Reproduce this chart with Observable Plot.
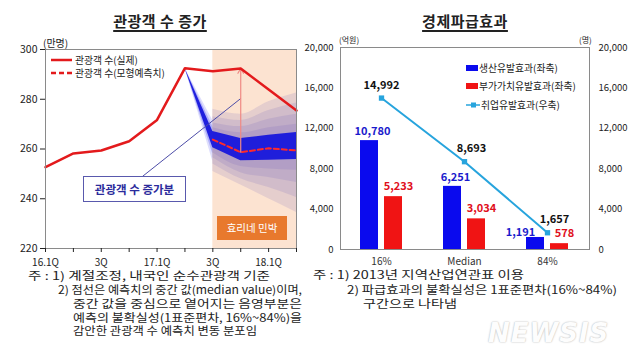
<!DOCTYPE html>
<html><head><meta charset="utf-8">
<script src="https://cdn.jsdelivr.net/npm/d3@7"></script>
<script src="https://cdn.jsdelivr.net/npm/@observablehq/plot@0.6"></script>
<style>
body{margin:0;background:#fff;}
#root{position:relative;width:639px;height:364px;overflow:hidden;background:#fff;font-family:"Noto Sans CJK KR","Noto Sans",sans-serif;color:#222;}
.abs{position:absolute;white-space:nowrap;}
.title{font-weight:bold;font-size:15px;line-height:18px;text-align:center;width:200px;letter-spacing:0.5px;}
.title span{text-decoration:underline;text-underline-offset:3px;text-decoration-thickness:1.5px;}
.lg{font-size:9.8px;line-height:12px;color:#222;display:flex;align-items:center;}
</style></head>
<body>
<div id="root">
  <div class="abs title" style="left:60px;top:12px;"><span>관광객 수 증가</span></div>
  <div class="abs title" style="left:365px;top:12px;"><span>경제파급효과</span></div>
  <div class="abs" style="left:43px;top:35px;font-size:10px;">(만명)</div>
  <div class="abs" style="left:339px;top:34px;font-size:8px;">(억원)</div>
  <div class="abs" style="left:579px;top:34px;font-size:8px;">(명)</div>
  <div id="left" class="abs" style="left:0;top:30px;"></div>
  <div id="right" class="abs" style="left:300px;top:30px;"></div>

  <!-- left legend -->
  <div class="abs lg" style="left:51px;top:54px;"><svg width="24" height="8"><line x1="0" y1="4" x2="21" y2="4" stroke="#e31a1c" stroke-width="2.5"/></svg>관광객 수(실제)</div>
  <div class="abs lg" style="left:51px;top:67px;"><svg width="24" height="8"><line x1="0" y1="4" x2="21" y2="4" stroke="#e31a1c" stroke-width="2.5" stroke-dasharray="5,3"/></svg>관광객 수(모형예측치)</div>

  <div class="abs" style="left:83px;top:176px;width:101px;height:24px;border:1px solid #5959ad;background:#fff;color:#2b2b9c;font-weight:bold;font-size:11.5px;line-height:24px;text-align:center;">관광객 수 증가분</div>
  <div class="abs" style="left:217px;top:216px;width:70px;height:24px;background:#e8792d;color:#fff;font-size:10.5px;line-height:24px;text-align:center;">효리네 민박</div>

  <!-- right legend -->
  <div class="abs lg" style="left:466px;top:62px;"><svg width="13" height="8"><rect x="0" y="1" width="12" height="6" fill="#0a0aee"/></svg>생산유발효과(좌축)</div>
  <div class="abs lg" style="left:466px;top:80px;"><svg width="13" height="8"><rect x="0" y="1" width="12" height="6" fill="#f01414"/></svg>부가가치유발효과(좌축)</div>
  <div class="abs lg" style="left:466px;top:99px;"><svg width="15" height="8"><line x1="0" y1="4" x2="14" y2="4" stroke="#27a4dd" stroke-width="1.5"/><rect x="5" y="1.5" width="5" height="5" fill="#27a4dd"/></svg>취업유발효과(우축)</div>

  <svg id="notes" class="abs" style="left:0;top:0;pointer-events:none;" width="639" height="364"></svg>
  <div class="abs" style="left:488px;top:318px;font-family:'DejaVu Sans',sans-serif;font-weight:bold;font-style:italic;font-size:26px;letter-spacing:1px;color:#fdfdfd;text-shadow:0 0 2px #bdbdbd,0 0 1px #cfcfcf;">NEWSIS</div>
</div>
<script>
// ---------- left chart data ----------
const quarters = ["16.1Q","16.2Q","16.3Q","16.4Q","17.1Q","17.2Q","17.3Q","17.4Q","18.1Q","18.2Q"];
const quarterTickLabels = ["16.1Q","","3Q","","17.1Q","","3Q","","18.1Q",""];
const actualVisitors = [252.7, 258.2, 259.4, 263.1, 271.7, 292.5, 291.3, 292.4, 283.9, 275.5];
const leftYTicks = [220, 240, 260, 280, 300];
const shadedPeriod = ["17.3Q", "18.2Q"];

const forecastQuarters = ["17.3Q","17.4Q","18.1Q","18.2Q"];
const forecastMedian = [263.8, 258.7, 260.3, 259.4];

const innerQuarters = ["17.2Q","17.3Q","17.4Q","18.1Q","18.2Q"];
const innerLow  = [292.5, 260.5, 255.3, 255.5, 255.8];
const innerHigh = [292.5, 267.0, 264.2, 265.5, 266.6];

const haloQuarters = ["17.2Q","17.3Q"];
const halo1Low  = [292.5, 258.0];
const halo1High = [292.5, 269.0];
const halo2Low  = [292.5, 255.0];
const halo2High = [292.5, 271.5];

const band1Low  = [258.5, 253.0, 252.0, 251.5];
const band1High = [268.5, 266.5, 268.5, 270.0];
const band2Low  = [256.5, 250.5, 248.5, 246.5];
const band2High = [270.5, 269.0, 272.0, 274.0];
const band3Low  = [254.0, 248.0, 244.5, 240.5];
const band3High = [273.0, 271.5, 275.5, 278.5];
const band4Low  = [251.0, 245.5, 240.0, 234.5];
const band4High = [276.0, 274.0, 279.0, 282.5];

const annotationFrom = {x: 3.48, y: 249};
const annotationTo = {quarter: "17.4Q", y: 280.3};

// ---------- right chart data ----------
const effectCats = ["16%", "Median", "84%"];
const productionEffect = [10780, 6251, 1191];
const valueAddedEffect = [5233, 3034, 578];
const employmentEffect = [14992, 8693, 1657];
const rightYTicks = [0, 4000, 8000, 12000, 16000, 20000];

// ---------- notes ----------
const leftNotes = [
  "주 : 1) 계절조정, 내국인 순수관광객 기준",
  "2) 점선은 예측치의 중간 값(median value)이며,",
  "중간 값을 중심으로 옅어지는 음영부분은",
  "예측의 불확실성(1표준편차, 16%~84%)을",
  "감안한 관광객 수 예측치 변동 분포임"
];
const rightNotes = [
  "주 : 1) 2013년 지역산업연관표 이용",
  "2) 파급효과의 불확실성은 1표준편차(16%~84%)",
  "구간으로 나타냄"
];
// [startX, endX, centerY] for each note line
const leftNoteLayout = [[28, 270, 275], [58, 302, 289], [73, 302, 303], [73, 302, 317], [73, 257, 330]];
const rightNoteLayout = [[313, 524, 274], [347, 617, 289], [363, 457, 303]];

const qi = q => quarters.indexOf(q);
const bandRows = (qs, lo, hi) => qs.map((q, i) => ({x: qi(q), lo: lo[i], hi: hi[i]}));

const font = "'Noto Sans CJK KR', 'Noto Sans', sans-serif";

const actualRows = quarters.map((q, i) => ({x: i, y: actualVisitors[i]}));
const medianRows = forecastQuarters.map((q, i) => ({x: qi(q), y: forecastMedian[i]}));
const fanLayers = [
  [band4Low, band4High], [band3Low, band3High], [band2Low, band2High], [band1Low, band1High]
];

const leftChart = Plot.plot({
  width: 320, height: 238,
  marginLeft: 45, marginRight: 24, marginTop: 19, marginBottom: 20,
  x: {type: "linear", domain: [0, quarters.length - 1]},
  y: {domain: [leftYTicks[0], leftYTicks[leftYTicks.length - 1]]},
  style: {fontFamily: font, fontSize: "10px", color: "#222", background: "transparent", overflow: "visible"},
  marks: [
    Plot.rect([shadedPeriod], {x1: d => qi(d[0]), x2: d => qi(d[1]), y1: leftYTicks[0], y2: leftYTicks[leftYTicks.length - 1], fill: "#fce3d1"}),
    Plot.areaY(bandRows(haloQuarters, halo2Low, halo2High), {x: "x", y1: "lo", y2: "hi", fill: "#4a4af0", fillOpacity: 0.18}),
    Plot.areaY(bandRows(haloQuarters, halo1Low, halo1High), {x: "x", y1: "lo", y2: "hi", fill: "#3a3af0", fillOpacity: 0.28}),
    ...fanLayers.map(([lo, hi]) =>
      Plot.areaY(bandRows(forecastQuarters, lo, hi), {x: "x", y1: "lo", y2: "hi", fill: "#5e4fb8", fillOpacity: 0.14, curve: "monotone-x"})),
    Plot.areaY(bandRows(innerQuarters, innerLow, innerHigh), {x: "x", y1: "lo", y2: "hi", fill: "#1717dc", fillOpacity: 0.95}),
    Plot.line(medianRows, {x: "x", y: "y", stroke: "#ff2a2a", strokeWidth: 2, strokeDasharray: "5,3"}),
    Plot.link([annotationFrom], {x1: "x", y1: "y", x2: () => qi(annotationTo.quarter), y2: () => annotationTo.y, stroke: "#4d4da8", strokeWidth: 1}),
    Plot.arrow([{x: qi("17.4Q"), y1: forecastMedian[1], y2: actualVisitors[qi("17.4Q")]}], {x1: "x", x2: "x", y1: "y1", y2: "y2", stroke: "#f08a84", strokeWidth: 1.2, headLength: 7, bend: 0}),
    Plot.line(actualRows, {x: "x", y: "y", stroke: "#e31a1c", strokeWidth: 2.5}),
    Plot.frame({stroke: "#8a8a8a"}),
    Plot.axisY({ticks: leftYTicks, tickSize: 5, tickPadding: 3, label: null, fontSize: 10.5}),
    Plot.axisX({ticks: quarters.map((_, i) => i), tickFormat: i => quarterTickLabels[i], tickSize: 4, tickPadding: 6, label: null, fontSize: 10})
  ]
});
document.getElementById("left").appendChild(leftChart);

const effRows = effectCats.map((c, i) => ({cat: c, prod: productionEffect[i], va: valueAddedEffect[i], emp: employmentEffect[i]}));
const fmt = d3.format(",");

const rightChart = Plot.plot({
  width: 339, height: 239,
  marginLeft: 40, marginRight: 50, marginTop: 17, marginBottom: 20,
  x: {domain: effectCats, paddingInner: 0.783, paddingOuter: 0.3915},
  y: {domain: [rightYTicks[0], rightYTicks[rightYTicks.length - 1]]},
  style: {fontFamily: font, fontSize: "10px", color: "#222", background: "transparent", overflow: "visible"},
  marks: [
    Plot.barY(effRows, {x: "cat", y: "prod", fill: "#0a0aee", dx: -12}),
    Plot.barY(effRows, {x: "cat", y: "va", fill: "#f01414", dx: 12}),
    Plot.line(effRows, {x: "cat", y: "emp", stroke: "#27a4dd", strokeWidth: 2}),
    Plot.dot(effRows, {x: "cat", y: "emp", symbol: "square", fill: "#27a4dd", r: 3}),
    Plot.text(effRows, {filter: (d, i) => i < 2, x: "cat", y: "prod", text: d => fmt(d.prod), dx: -9, dy: -9, fill: "#1a1acc", fontWeight: "bold", fontSize: 11}),
    Plot.text(effRows, {filter: (d, i) => i === 2, x: "cat", y: "prod", text: d => fmt(d.prod), dx: -27, dy: -5, fill: "#1a1acc", fontWeight: "bold", fontSize: 11}),
    Plot.text(effRows, {x: "cat", y: "va", text: d => fmt(d.va), dx: 17, dy: -10, fill: "#e0101c", fontWeight: "bold", fontSize: 11}),
    Plot.text(effRows, {filter: (d, i) => i === 0, x: "cat", y: "emp", text: d => fmt(d.emp), dy: -13, fill: "#111", fontWeight: "bold", fontSize: 11}),
    Plot.text(effRows, {filter: (d, i) => i > 0, x: "cat", y: "emp", text: d => fmt(d.emp), dx: 7, dy: -13, fill: "#111", fontWeight: "bold", fontSize: 11}),
    Plot.frame({stroke: "#8a8a8a"}),
    Plot.axisY({ticks: rightYTicks, tickFormat: fmt, anchor: "left", tickSize: 0, tickPadding: 7, label: null, fontSize: 9.5}),
    Plot.axisY({ticks: rightYTicks, tickFormat: fmt, anchor: "right", tickSize: 0, tickPadding: 9, label: null, fontSize: 9.5}),
    Plot.axisX({tickSize: 0, tickPadding: 8, label: null, fontSize: 10, fill: "#333"})
  ]
});
document.getElementById("right").appendChild(rightChart);

// notes as SVG text stretched to the reference line extents
const svgNS = "http://www.w3.org/2000/svg";
const notesSvg = document.getElementById("notes");
function addNotes(lines, layout) {
  lines.forEach((t, i) => {
    const [x0, x1, y] = layout[i];
    const el = document.createElementNS(svgNS, "text");
    el.setAttribute("x", x0);
    el.setAttribute("y", y);
    el.setAttribute("dominant-baseline", "central");
    el.setAttribute("textLength", x1 - x0);
    el.setAttribute("lengthAdjust", "spacingAndGlyphs");
    el.setAttribute("font-family", font);
    el.setAttribute("font-size", "11.2");
    el.setAttribute("fill", "#222");
    el.textContent = t;
    notesSvg.appendChild(el);
  });
}
addNotes(leftNotes, leftNoteLayout);
addNotes(rightNotes, rightNoteLayout);
</script>
</body></html>
